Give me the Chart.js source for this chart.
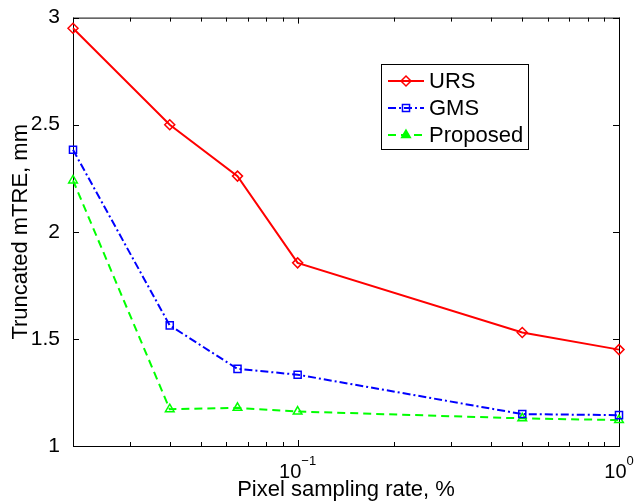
<!DOCTYPE html>
<html>
<head>
<meta charset="utf-8">
<script src="https://cdn.jsdelivr.net/npm/chart.js@4.4.1/dist/chart.umd.min.js"></script>
<style>
html, body { margin: 0; padding: 0; background: #fff; }
</style>
</head>
<body>
<canvas id="chart" width="634" height="504"></canvas>
<script>
// Données
const samplingRates = [0.02, 0.04, 0.065, 0.1, 0.5, 1];
const ursValues = [2.95, 2.50, 2.26, 1.855, 1.53, 1.45];
const gmsValues = [2.383, 1.563, 1.36, 1.333, 1.149, 1.144];
const proposedValues = [2.24, 1.172, 1.178, 1.161, 1.129, 1.121];

const yTicks = [1, 1.5, 2, 2.5, 3];
const xMinorTicks = [0.02, 0.03, 0.04, 0.05, 0.06, 0.07, 0.08, 0.09, 0.2, 0.3, 0.4, 0.5, 0.6, 0.7, 0.8, 0.9];
const xMajorTicks = [0.1, 1];
const xTickLabels = [["10", "\u22121"], ["10", "0"]];

const FONT = '"Liberation Sans", Arial, Helvetica, sans-serif';

const toPoints = values => values.map((v, i) => ({ x: samplingRates[i], y: v }));

// Axes façon MATLAB : cadre, graduations vers l'intérieur, exposants
const matlabAxes = {
    id: "matlabAxes",
    beforeDatasetsDraw(chart) {
        const { ctx, chartArea: a, scales: { x, y } } = chart;
        ctx.save();
        ctx.strokeStyle = "#000";
        ctx.lineWidth = 1;
        ctx.strokeRect(a.left + 0.5, a.top + 0.5, a.right - a.left, a.bottom - a.top);

        ctx.beginPath();
        yTicks.forEach(v => {
            const py = Math.round(y.getPixelForValue(v)) + 0.5;
            ctx.moveTo(a.left, py); ctx.lineTo(a.left + 6, py);
            ctx.moveTo(a.right, py); ctx.lineTo(a.right - 6, py);
        });
        const xTick = (v, len) => {
            const px = Math.round(x.getPixelForValue(v)) + 0.5;
            ctx.moveTo(px, a.bottom); ctx.lineTo(px, a.bottom - len);
            ctx.moveTo(px, a.top); ctx.lineTo(px, a.top + len);
        };
        xMinorTicks.forEach(v => xTick(v, 4));
        xMajorTicks.forEach(v => xTick(v, 6));
        ctx.stroke();

        // Libellés 10^-1, 10^0
        ctx.fillStyle = "#000";
        ctx.textAlign = "left";
        ctx.textBaseline = "alphabetic";
        xMajorTicks.forEach((v, i) => {
            const [base, exp] = xTickLabels[i];
            const px = x.getPixelForValue(v);
            ctx.font = "20px " + FONT;
            const bw = ctx.measureText(base).width;
            ctx.font = "13px " + FONT;
            const ew = ctx.measureText(exp).width;
            const left = px - (bw + ew) / 2;
            ctx.font = "20px " + FONT;
            ctx.fillText(base, left, a.bottom + 32);
            ctx.font = "13px " + FONT;
            ctx.fillText(exp, left + bw, a.bottom + 19);
        });
        ctx.restore();
    },
    afterDatasetsDraw(chart, args, opts) {
        const { ctx } = chart;
        const box = opts.box;
        ctx.save();
        ctx.fillStyle = "#fff";
        ctx.fillRect(box.left, box.top, box.width, box.height);
        ctx.strokeStyle = "#000";
        ctx.lineWidth = 1;
        ctx.strokeRect(box.left + 0.5, box.top + 0.5, box.width, box.height);

        chart.data.datasets.forEach((ds, i) => {
            const cy = box.top + opts.firstRow + i * opts.rowGap;
            const x0 = box.left + 7, x1 = box.left + 43;
            ctx.strokeStyle = ds.borderColor;
            ctx.lineWidth = ds.borderWidth;
            ctx.setLineDash(ds.borderDash || []);
            ctx.beginPath();
            ctx.moveTo(x0, cy); ctx.lineTo(x1, cy);
            ctx.stroke();
            ctx.setLineDash([]);
            ctx.lineWidth = ds.pointBorderWidth;
            ctx.fillStyle = ds.legendFill || "rgba(0,0,0,0)";
            Chart.helpers.drawPoint(ctx, {
                pointStyle: ds.pointStyle,
                radius: ds.pointRadius,
                rotation: 0,
                borderWidth: ds.pointBorderWidth
            }, (x0 + x1) / 2, cy);

            ctx.fillStyle = "#000";
            ctx.font = "22px " + FONT;
            ctx.textAlign = "left";
            ctx.textBaseline = "middle";
            ctx.fillText(ds.label, box.left + 48, cy + 1);
        });
        ctx.restore();
    }
};

new Chart(document.getElementById("chart").getContext("2d"), {
    type: "line",
    data: {
        datasets: [
            {
                label: "URS",
                data: toPoints(ursValues),
                borderColor: "#ff0000",
                borderWidth: 2,
                pointStyle: "rectRot",
                pointRadius: 5,
                pointBorderWidth: 1.5,
                pointBorderColor: "#ff0000",
                pointBackgroundColor: "rgba(0,0,0,0)",
                clip: false
            },
            {
                label: "GMS",
                data: toPoints(gmsValues),
                borderColor: "#0000ff",
                borderWidth: 2,
                borderDash: [8, 3, 2, 3],
                pointStyle: "rect",
                pointRadius: 5,
                pointBorderWidth: 1.5,
                pointBorderColor: "#0000ff",
                pointBackgroundColor: "rgba(0,0,0,0)",
                clip: false
            },
            {
                label: "Proposed",
                data: toPoints(proposedValues),
                borderColor: "#00ff00",
                borderWidth: 2,
                borderDash: [8, 5],
                pointStyle: "triangle",
                pointRadius: 5,
                pointBorderWidth: 1.5,
                pointBorderColor: "#00ff00",
                pointBackgroundColor: "rgba(0,0,0,0)",
                legendFill: "#00ff00",
                clip: false
            }
        ]
    },
    options: {
        responsive: false,
        animation: false,
        devicePixelRatio: 1,
        layout: { padding: { left: 0, top: 16, right: 15, bottom: 0 } },
        plugins: {
            legend: { display: false },
            tooltip: { enabled: false },
            matlabAxes: {
                box: { left: 381, top: 64, width: 147, height: 85 },
                firstRow: 17,
                rowGap: 27
            }
        },
        scales: {
            x: {
                type: "logarithmic",
                min: 0.02,
                max: 1,
                grid: { display: false },
                border: { display: false },
                ticks: { display: false },
                afterFit: s => { s.height = 58; },
                title: {
                    display: true,
                    text: "Pixel sampling rate, %",
                    color: "#000",
                    font: { family: FONT, size: 22 },
                    padding: { top: 0, bottom: 1 }
                }
            },
            y: {
                min: 1,
                max: 3,
                grid: { display: false },
                border: { display: false },
                afterBuildTicks: s => { s.ticks = yTicks.map(v => ({ value: v })); },
                afterFit: s => { s.width = 73; },
                ticks: {
                    color: "#000",
                    padding: 5,
                    font: { family: FONT, size: 21 },
                    callback: v => String(v)
                },
                title: {
                    display: true,
                    text: "Truncated mTRE, mm",
                    color: "#000",
                    font: { family: FONT, size: 22 },
                    padding: { top: 8, bottom: 0 }
                }
            }
        }
    },
    plugins: [matlabAxes]
});
</script>
</body>
</html>
